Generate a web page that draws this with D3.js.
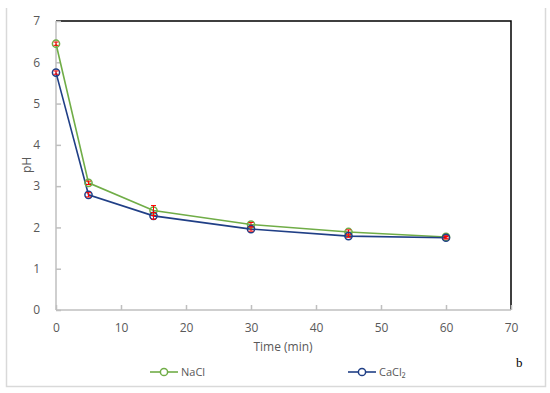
<!DOCTYPE html>
<html><head><meta charset="utf-8">
<script src="https://cdn.jsdelivr.net/npm/d3@7"></script>
<style>body{margin:0;background:#fff}svg{display:block}</style>
</head><body>
<svg id="c" width="550" height="393"></svg>
<script>
const times = [0, 5, 15, 30, 45, 60];
const naclPH = [6.45, 3.08, 2.41, 2.07, 1.89, 1.77];
const cacl2PH = [5.75, 2.79, 2.28, 1.96, 1.79, 1.75];
const naclErr = [0.04, 0.04, 0.12, 0.05, 0.05, 0.03];
const cacl2Err = [0.04, 0.05, 0.08, 0.05, 0.03, 0.03];
const xTicks = [0, 10, 20, 30, 40, 50, 60, 70];
const yTicks = [0, 1, 2, 3, 4, 5, 6, 7];

const svg = d3.select("#c");
const L = 56, R = 511, T = 21, B = 310;
const x = d3.scaleLinear().domain([0, 70]).range([L, R]);
const y = d3.scaleLinear().domain([0, 7]).range([B, T]);
const font = "'Open Sans', 'Noto Sans', sans-serif";

// outer frame
svg.append("path").attr("d", `M6.5,8 V386.5 H545.5 V8`).attr("fill", "none")
  .attr("stroke", "#d9d9d9").attr("stroke-width", 1.5);

// top & right black borders
svg.append("path").attr("d", `M${L},${T} H${R} V${B}`).attr("fill", "none")
  .attr("stroke", "#000").attr("stroke-width", 1.5);

// axes
const xa = svg.append("g").attr("transform", `translate(0,${B})`)
  .call(d3.axisBottom(x).tickValues(xTicks).tickFormat(d3.format("d")).tickSize(5).tickPadding(8));
const ya = svg.append("g").attr("transform", `translate(${L},0)`)
  .call(d3.axisLeft(y).tickValues(yTicks).tickFormat(d3.format("d")).tickSize(5).tickPadding(11));
[xa, ya].forEach(a => {
  a.selectAll("path,line").attr("stroke", "#bfbfbf").attr("stroke-width", 1.5);
  a.selectAll("text").attr("fill", "#595959").style("font-family", font).style("font-size", "12px");
});
xa.select("path").attr("d", `M${L},0H${R}`);
ya.select("path").attr("d", `M0,${B}V${T}`);
ya.selectAll(".tick line").attr("x2", 5).attr("x1", 0);
xa.selectAll(".tick line").attr("y1", 0).attr("y2", -5);

// axis titles
svg.append("text").attr("x", 283).attr("y", 351).attr("text-anchor", "middle")
  .attr("fill", "#595959").style("font-family", font).style("font-size", "12px").text("Time (min)");
svg.append("text").attr("transform", "translate(31,165) rotate(-90)").attr("text-anchor", "middle")
  .attr("fill", "#595959").style("font-family", font).style("font-size", "12px").text("pH");

const series = [
  {name: "NaCl", vals: naclPH, err: naclErr, color: "#70ad47"},
  {name: "CaCl2", vals: cacl2PH, err: cacl2Err, color: "#203f86"}
];
const line = d3.line().x(d => x(d[0])).y(d => y(d[1]));
series.forEach(s => {
  const pts = times.map((t, i) => [t, s.vals[i], s.err[i]]);
  svg.append("path").datum(pts).attr("d", line).attr("fill", "none")
    .attr("stroke", s.color).attr("stroke-width", 1.6);
});
series.forEach(s => {
  const pts = times.map((t, i) => [t, s.vals[i], s.err[i]]);
  const g = svg.append("g");
  g.selectAll("circle").data(pts).join("circle")
    .attr("cx", d => x(d[0])).attr("cy", d => y(d[1])).attr("r", 3.6)
    .attr("fill", "none").attr("stroke", s.color).attr("stroke-width", 1.5);
  const eb = g.selectAll("g.eb").data(pts).join("g");
  eb.append("line").attr("x1", d => x(d[0])).attr("x2", d => x(d[0]))
    .attr("y1", d => y(d[1] - d[2])).attr("y2", d => y(d[1] + d[2]))
    .attr("stroke", "#ff0000").attr("stroke-width", 1);
  [1, -1].forEach(sg => {
    eb.append("line").attr("x1", d => x(d[0]) - 2.5).attr("x2", d => x(d[0]) + 2.5)
      .attr("y1", d => y(d[1] + sg * d[2])).attr("y2", d => y(d[1] + sg * d[2]))
      .attr("stroke", "#ff0000").attr("stroke-width", 1);
  });
});

// legend
const leg = [{label: "NaCl", x0: 150, color: "#70ad47"}, {label: "CaCl₂", x0: 348, color: "#203f86"}];
leg.forEach(l => {
  const g = svg.append("g");
  g.append("line").attr("x1", l.x0).attr("x2", l.x0 + 28).attr("y1", 372).attr("y2", 372)
    .attr("stroke", l.color).attr("stroke-width", 1.6);
  g.append("circle").attr("cx", l.x0 + 14).attr("cy", 372).attr("r", 3.6)
    .attr("fill", "#fff").attr("stroke", l.color).attr("stroke-width", 1.5);
  g.append("text").attr("x", l.x0 + 31).attr("y", 376).attr("fill", "#595959")
    .style("font-family", font).style("font-size", "11px").text(l.label);
});
svg.append("text").attr("x", 516).attr("y", 367).attr("fill", "#000")
  .style("font-family", "'Liberation Serif', serif").style("font-size", "13px").text("b");
</script>
</body></html>
